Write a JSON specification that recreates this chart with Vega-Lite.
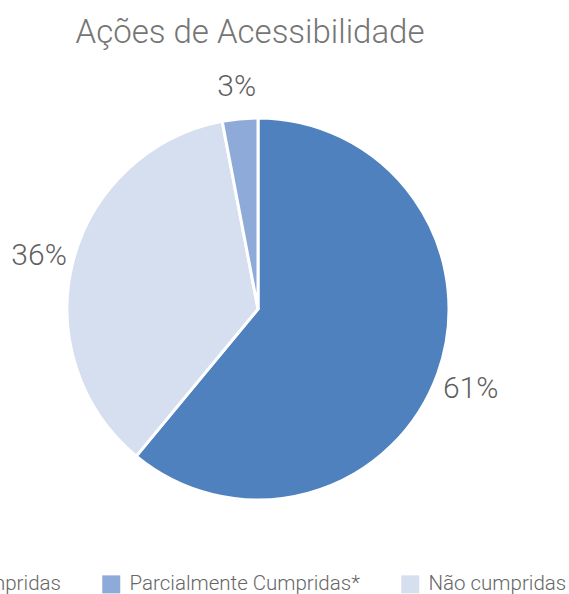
{
  "$schema": "https://vega.github.io/schema/vega-lite/v6.json",
  "autosize": {"type": "none"},
  "width": 516,
  "height": 498,
  "padding": {"left": 0, "top": 60, "right": 53, "bottom": 36},
  "background": "white",
  "title": {
    "text": "Ações de Acessibilidade",
    "font": "Roboto",
    "fontWeight": 300,
    "fontSize": 33,
    "color": "#757575",
    "anchor": "middle",
    "offset": 10,
    "dx": -8
  },
  "data": {
    "values": [
      {"categoria": "Cumpridas", "valor": 61, "rotulo": "61%", "ordem": 1},
      {"categoria": "Não cumpridas", "valor": 36, "rotulo": "36%", "ordem": 2},
      {"categoria": "Parcialmente Cumpridas*", "valor": 3, "rotulo": "3%", "ordem": 3}
    ]
  },
  "encoding": {
    "theta": {"field": "valor", "type": "quantitative", "stack": true},
    "order": {"field": "ordem", "type": "quantitative"}
  },
  "layer": [
    {
      "mark": {"type": "arc", "outerRadius": 191, "stroke": "white", "strokeWidth": 3},
      "encoding": {
        "color": {
          "field": "categoria",
          "type": "nominal",
          "scale": {
            "domain": ["Cumpridas", "Parcialmente Cumpridas*", "Não cumpridas"],
            "range": ["#4e81bd", "#8eaad8", "#d6dfef"]
          },
          "legend": {
            "title": null,
            "orient": "none",
            "direction": "horizontal",
            "legendX": -66,
            "legendY": 514,
            "symbolType": "square",
            "symbolSize": 324,
            "symbolStrokeWidth": 0,
            "labelFont": "Roboto",
            "labelFontWeight": 300,
            "labelFontSize": 20.5,
            "labelColor": "#666666",
            "labelOffset": 8,
            "labelLimit": 400,
            "columnPadding": 40
          }
        }
      }
    },
    {
      "mark": {
        "type": "text",
        "radius": 226,
        "font": "Roboto",
        "fontWeight": 300,
        "fontSize": 30,
        "color": "#5f5f5f",
        "align": "center",
        "baseline": "middle",
        "dy": 3
      },
      "encoding": {
        "text": {"field": "rotulo", "type": "nominal"}
      }
    }
  ]
}
